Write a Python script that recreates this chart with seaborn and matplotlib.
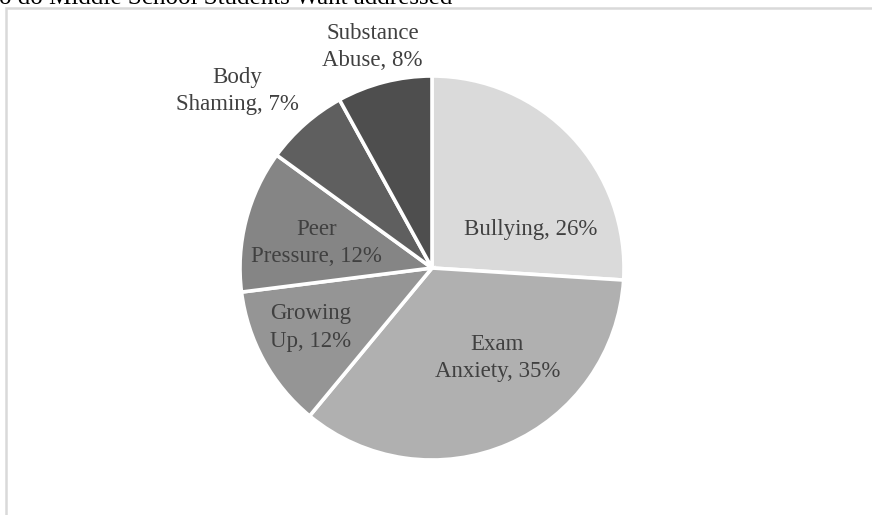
import matplotlib
matplotlib.use("Agg")
import matplotlib.pyplot as plt
from matplotlib.patches import Rectangle
import seaborn as sns

# Survey shares (percent), clockwise from 12 o'clock
categories = ["Bullying", "Exam Anxiety", "Growing Up", "Peer Pressure",
              "Body Shaming", "Substance Abuse"]
shares = [26, 35, 12, 12, 7, 8]
title_text = "o do Middle School Students Want addressed"

# Grey-scale fills for each slice
slice_colors = ["#dadada", "#b0b0b0", "#959595", "#858585", "#5f5f5f", "#4e4e4e"]
# Label anchor points in pie-radius units (x, y)
label_pos = [(0.513, 0.202), (0.34, -0.47), (-0.63, -0.31), (-0.60, 0.13),
             (-1.015, 0.92), (-0.31, 1.15)]

sns.set_theme(style="white")
plt.rcParams["font.family"] = ["Liberation Serif", "DejaVu Serif"]

W, H = 872, 515
fig = plt.figure(figsize=(W / 100, H / 100), dpi=100)
fig.patch.set_facecolor("white")

# Chart-area frame (runs off the right and bottom edges)
fig.add_artist(Rectangle((6 / W, -0.05), 1.2, 1.05 - 8 / H,
                         transform=fig.transFigure, fill=False,
                         edgecolor="#d9d9d9", linewidth=1.8))

cx, cy, r = 432, 268, 192
ax = fig.add_axes([(cx - r) / W, (H - cy - r) / H, 2 * r / W, 2 * r / H])
ax.pie(shares, colors=slice_colors, startangle=90, counterclock=False,
       radius=1.0, wedgeprops=dict(edgecolor="white", linewidth=2.6))
ax.set_xlim(-1, 1)
ax.set_ylim(-1, 1)
ax.set_aspect("equal")
ax.axis("off")


def slice_label(name, value):
    words = name.split()
    if len(words) > 1:
        return " ".join(words[:-1]) + "\n" + words[-1] + f", {value}%"
    return f"{name}, {value}%"


for name, value, (lx, ly) in zip(categories, shares, label_pos):
    ax.text(lx, ly, slice_label(name, value), ha="center", va="center",
            fontsize=16.5, color="#404040", linespacing=1.38, clip_on=False)

fig.text(-1 / W, 1 - 3.5 / H, title_text, ha="left", va="baseline",
         fontsize=18, color="#000000")

fig.savefig("out.png", dpi=100, facecolor="white")
